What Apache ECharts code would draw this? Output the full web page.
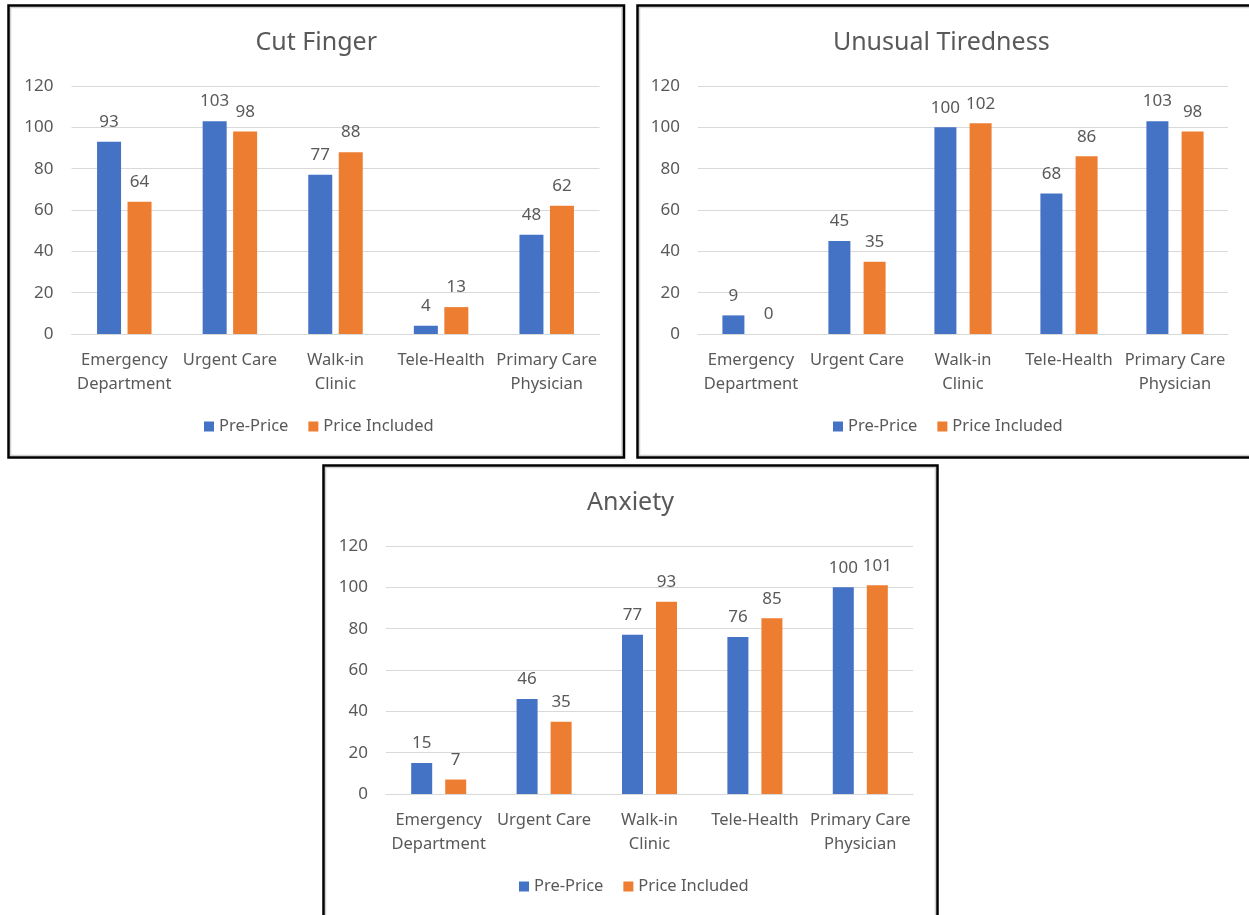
<!DOCTYPE html>
<html>
<head>
<meta charset="utf-8">
<script src="https://cdn.jsdelivr.net/npm/echarts@6/dist/echarts.min.js"></script>
<style>
  html, body { margin: 0; padding: 0; background: #fff; }
  #chart { width: 1249px; height: 915px; }
</style>
</head>
<body>
<div id="chart"></div>
<script>
// Care settings shown along each x axis
const categories = ['Emergency\nDepartment', 'Urgent Care', 'Walk-in\nClinic', 'Tele-Health', 'Primary Care\nPhysician'];
const seriesNames = ['Pre-Price', 'Price Included'];
const yTicks = [0, 20, 40, 60, 80, 100, 120];

// Cut Finger
const cutFingerPre = [93, 103, 77, 4, 48];
const cutFingerPrice = [64, 98, 88, 13, 62];
// Unusual Tiredness
const tirednessPre = [9, 45, 100, 68, 103];
const tirednessPrice = [0, 35, 102, 86, 98];
// Anxiety
const anxietyPre = [15, 46, 77, 76, 100];
const anxietyPrice = [7, 35, 93, 85, 101];

const panelTitles = ['Cut Finger', 'Unusual Tiredness', 'Anxiety'];
const panelData = [
  [cutFingerPre, cutFingerPrice],
  [tirednessPre, tirednessPrice],
  [anxietyPre, anxietyPrice]
];

const BLUE = '#4472C4';
const ORANGE = '#ED7D31';
const TEXT = '#595959';
const GRID_LINE = '#d9d9d9';
const FONT = 'Noto Sans';

// Layout of the three panels (page pixels)
const panels = [
  { box: [8.5, 5.5, 624, 457.5], grid: { left: 71.5, top: 86, width: 528, height: 248 }, titleY: 43, legendX: 204, legendY: 418, barWidth: 24, barGap: '27%' },
  { box: [637.5, 5.5, 1253, 457.5], grid: { left: 698, top: 86, width: 530, height: 248 }, titleY: 43, legendX: 833, legendY: 418, barWidth: 22, barGap: '60%' },
  { box: [323.5, 465.5, 937.5, 925], grid: { left: 386, top: 546, width: 527, height: 248 }, titleY: 503, legendX: 519, legendY: 878, barWidth: 21, barGap: '62%' }
];

const grids = [], xAxes = [], yAxes = [], series = [], legends = [], graphics = [];

panels.forEach((p, i) => {
  grids.push(Object.assign({ containLabel: false }, p.grid));
  xAxes.push({
    type: 'category', gridIndex: i, data: categories,
    axisLine: { lineStyle: { color: GRID_LINE, width: 1 } },
    axisTick: { show: false },
    axisLabel: { interval: 0, color: TEXT, fontSize: 16.5, fontFamily: FONT, lineHeight: 24, margin: 14 }
  });
  yAxes.push({
    type: 'value', gridIndex: i, min: yTicks[0], max: yTicks[yTicks.length - 1], interval: yTicks[1] - yTicks[0],
    axisLine: { show: false }, axisTick: { show: false },
    splitLine: { lineStyle: { color: GRID_LINE, width: 1 } },
    axisLabel: { color: TEXT, fontSize: 17, fontFamily: FONT, margin: 18 }
  });
  [0, 1].forEach(k => {
    series.push({
      name: seriesNames[k], type: 'bar', xAxisIndex: i, yAxisIndex: i,
      data: panelData[i][k],
      barWidth: p.barWidth, barGap: p.barGap,
      itemStyle: { color: k === 0 ? BLUE : ORANGE },
      label: { show: true, position: 'top', distance: 11, color: TEXT, fontSize: 17, fontFamily: FONT },
      animation: false
    });
  });
  legends.push({
    data: seriesNames, left: p.legendX, top: p.legendY, padding: 0,
    itemWidth: 10, itemHeight: 10, itemGap: 20, icon: 'rect',
    textStyle: { color: TEXT, fontSize: 16.5, fontFamily: FONT }
  });
  const [x1, y1, x2, y2] = p.box;
  // inner grey rule then outer black frame
  graphics.push({
    type: 'rect', silent: true, z: 100,
    shape: { x: x1 + 2, y: y1 + 2, width: x2 - x1 - 4, height: y2 - y1 - 4 },
    style: { fill: null, stroke: '#cfcfcf', lineWidth: 1.5 }
  });
  graphics.push({
    type: 'rect', silent: true, z: 101,
    shape: { x: x1, y: y1, width: x2 - x1, height: y2 - y1 },
    style: { fill: null, stroke: '#000', lineWidth: 2.5 }
  });
  graphics.push({
    type: 'text', silent: true, z: 102,
    x: (x1 + x2) / 2 - (i === 1 ? 4 : 0), y: p.titleY,
    style: { text: panelTitles[i], font: '25px "' + FONT + '"', fill: TEXT, align: 'center', verticalAlign: 'middle' }
  });
});

const chart = echarts.init(document.getElementById('chart'), null, { renderer: 'canvas' });
chart.setOption({
  animation: false,
  backgroundColor: '#fff',
  grid: grids, xAxis: xAxes, yAxis: yAxes, series: series, legend: legends,
  graphic: graphics
});
</script>
</body>
</html>
